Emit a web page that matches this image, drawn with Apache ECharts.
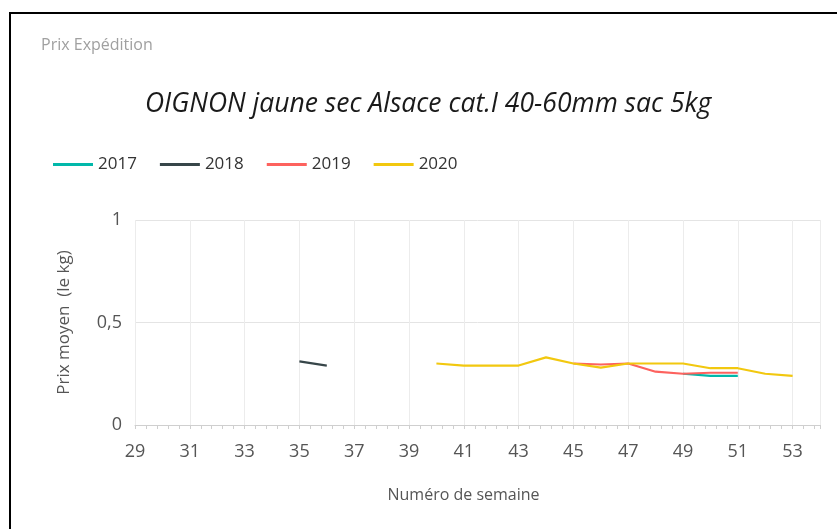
<!DOCTYPE html>
<html>
<head>
<meta charset="utf-8">
<script src="https://cdn.jsdelivr.net/npm/echarts@6/dist/echarts.min.js"></script>
<style>
  html, body { margin: 0; padding: 0; background: #fff; }
  #chart { width: 837px; height: 529px; }
</style>
</head>
<body>
<div id="chart"></div>
<script>
// semaines et prix moyens
const weeks2017 = [49, 50, 51]
const prix2017 = [0.25, 0.24, 0.24]

const weeks2018 = [35, 36]
const prix2018 = [0.31, 0.29]

const weeks2019 = [45, 46, 47, 48, 49, 50, 51]
const prix2019 = [0.30, 0.295, 0.30, 0.26, 0.25, 0.255, 0.255]

const weeks2020 = [40, 41, 42, 43, 44, 45, 46, 47, 48, 49, 50, 51, 52, 53]
const prix2020 = [0.30, 0.29, 0.29, 0.29, 0.33, 0.30, 0.28, 0.30, 0.30, 0.30, 0.277, 0.277, 0.25, 0.24]

const years = ['2017', '2018', '2019', '2020']
const colors = ['#01B8AA', '#374649', '#FD625E', '#F2C80F']

function pairs (xs, ys) {
  return xs.map((x, i) => [x, ys[i]])
}

const seriesData = [
  pairs(weeks2017, prix2017),
  pairs(weeks2018, prix2018),
  pairs(weeks2019, prix2019),
  pairs(weeks2020, prix2020)
]

const chart = echarts.init(document.getElementById('chart'))
const font = '"Open Sans", "Noto Sans", sans-serif'

chart.setOption({
  animation: false,
  color: colors,
  textStyle: { fontFamily: font },
  graphic: [
    {
      type: 'polyline',
      shape: { points: [[10, 540], [10, 13], [845, 13]] },
      style: { stroke: '#000', lineWidth: 2, fill: null }
    },
    {
      type: 'text',
      left: 41,
      top: 37,
      style: { text: 'Prix Expédition', fill: '#a0a0a0', fontSize: 16, fontFamily: font }
    }
  ],
  title: {
    text: 'OIGNON jaune sec Alsace cat.I 40-60mm sac 5kg',
    left: 145,
    top: 91,
    padding: 0,
    textStyle: {
      fontSize: 26.5,
      fontStyle: 'italic',
      fontWeight: 'normal',
      color: '#1a1a1a',
      fontFamily: font
    }
  },
  legend: {
    left: 48,
    top: 151,
    itemWidth: 40,
    itemHeight: 3,
    itemGap: 23,
    icon: 'rect',
    textStyle: { fontSize: 17, color: '#333', fontFamily: font },
    data: years
  },
  grid: {
    left: 135,
    right: 17,
    top: 220,
    bottom: 104
  },
  xAxis: {
    type: 'value',
    min: 29,
    max: 54,
    interval: 2,
    name: 'Numéro de semaine',
    nameLocation: 'middle',
    nameGap: 62,
    nameTextStyle: { fontSize: 16, color: '#555', padding: [0, 28, 0, 0] },
    axisLine: { show: true, lineStyle: { color: '#cfcfcf' } },
    axisTick: { show: true, length: 4, lineStyle: { color: '#cfcfcf' } },
    minorTick: { show: true, splitNumber: 5, length: 4, lineStyle: { color: '#cfcfcf' } },
    axisLabel: { fontSize: 18, color: '#555', margin: 18, showMaxLabel: false },
    splitLine: { show: true, lineStyle: { color: '#ececec' } }
  },
  yAxis: {
    type: 'value',
    min: 0,
    max: 1,
    interval: 0.5,
    name: 'Prix moyen  (le kg)',
    nameLocation: 'middle',
    nameGap: 62,
    nameTextStyle: { fontSize: 17, color: '#555' },
    axisLine: { show: false },
    axisTick: { show: false },
    axisLabel: {
      fontSize: 18,
      color: '#555',
      margin: 13,
      formatter: v => String(v).replace('.', ',')
    },
    splitLine: { show: true, lineStyle: { color: '#e4e4e4' } }
  },
  series: years.map((y, i) => ({
    name: y,
    type: 'line',
    data: seriesData[i],
    showSymbol: false,
    symbol: 'none',
    lineStyle: { width: 2.2, color: colors[i] },
    itemStyle: { color: colors[i] }
  }))
})
</script>
</body>
</html>
